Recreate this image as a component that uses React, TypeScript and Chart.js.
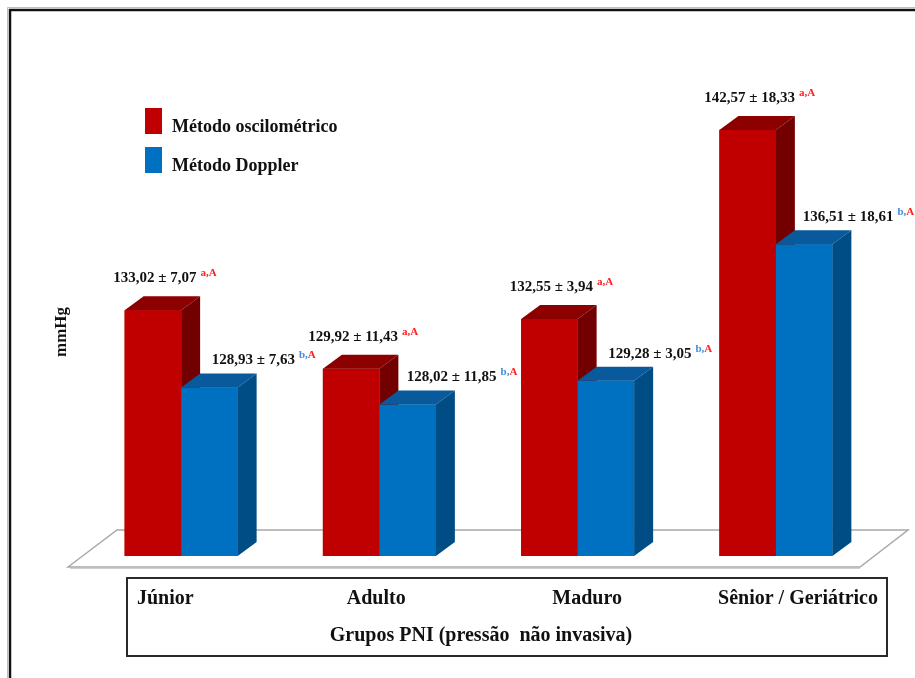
import React, { useEffect, useRef } from "react";
import { Chart, registerables } from "chart.js";

Chart.register(...registerables);

const categories = ["Júnior", "Adulto", "Maduro", "Sênior / Geriátrico"];
const seriesNames = ["Método oscilométrico", "Método Doppler"];
const oscilMeans = [133.02, 129.92, 132.55, 142.57];
const oscilSD = [7.07, 11.43, 3.94, 18.33];
const dopplerMeans = [128.93, 128.02, 129.28, 136.51];
const dopplerSD = [7.63, 11.85, 3.05, 18.61];
const oscilLetters = ["a", "a", "a", "a"];
const dopplerLetters = ["b", "b", "b", "b"];
const groupLetters = ["A", "A", "A", "A"];
const yAxisTitle = "mmHg";
const xAxisTitle = "Grupos PNI (pressão  não invasiva)";

const SERIF = '"Liberation Serif", "Times New Roman", serif';
const FRONT = ["#C00000", "#0070C0"];
const TOP = ["#8C0000", "#085A9C"];
const SIDE = ["#730000", "#004C84"];
const SUPCOL = ["#FF2020", "#3D8BDB"];
const DX = 19;
const DY = -14;

const fmt = (v: number) => v.toFixed(2).replace(".", ",");

function txt(
  ctx: CanvasRenderingContext2D,
  s: string,
  x: number,
  y: number,
  font: string,
  color: string,
  align: CanvasTextAlign = "left",
  sx = 1
) {
  ctx.save();
  ctx.font = font;
  ctx.fillStyle = color;
  ctx.textBaseline = "middle";
  ctx.textAlign = align;
  ctx.translate(x, y);
  ctx.scale(sx, 1);
  ctx.fillText(s, 0, 0);
  ctx.restore();
}

function measure(ctx: CanvasRenderingContext2D, s: string, font: string, sx = 1) {
  ctx.save();
  ctx.font = font;
  const w = ctx.measureText(s).width * sx;
  ctx.restore();
  return w;
}

const decoPlugin = {
  id: "deco3d",
  beforeDatasetsDraw(chart: any) {
    const { ctx, chartArea } = chart;
    const { left, right, bottom } = chartArea;
    ctx.save();
    ctx.beginPath();
    ctx.moveTo(left - 14, bottom + 11);
    ctx.lineTo(left + 35, bottom - 26);
    ctx.lineTo(right + 33, bottom - 26);
    ctx.lineTo(right - 15, bottom + 11);
    ctx.closePath();
    ctx.fillStyle = "#ffffff";
    ctx.fill();
    ctx.strokeStyle = "#a8a8a8";
    ctx.lineWidth = 1.5;
    ctx.stroke();
    ctx.beginPath();
    ctx.moveTo(left - 12, bottom + 12.5);
    ctx.lineTo(right - 15, bottom + 12.5);
    ctx.strokeStyle = "#d0d0d0";
    ctx.lineWidth = 1;
    ctx.stroke();
    ctx.restore();
  },
  afterDatasetsDraw(chart: any) {
    const { ctx, chartArea } = chart;
    ctx.save();
    chart.data.datasets.forEach((_ds: any, di: number) => {
      const meta = chart.getDatasetMeta(di);
      meta.data.forEach((bar: any) => {
        const p = bar.getProps(["x", "y", "base", "width"], true);
        const { x, y, width } = p;
        const base = Math.min(p.base, chartArea.bottom);
        const l = x - width / 2;
        const r = x + width / 2;
        ctx.fillStyle = FRONT[di];
        ctx.fillRect(l, y, r - l, base - y);
        ctx.beginPath();
        ctx.moveTo(l, y);
        ctx.lineTo(l + DX, y + DY);
        ctx.lineTo(r + DX, y + DY);
        ctx.lineTo(r, y);
        ctx.closePath();
        ctx.fillStyle = TOP[di];
        ctx.fill();
        ctx.beginPath();
        ctx.moveTo(r, y);
        ctx.lineTo(r + DX, y + DY);
        ctx.lineTo(r + DX, base + DY);
        ctx.lineTo(r, base);
        ctx.closePath();
        ctx.fillStyle = SIDE[di];
        ctx.fill();
      });
    });
    ctx.restore();
  },
  afterDraw(chart: any) {
    const { ctx, chartArea } = chart;
    const { left, right, bottom } = chartArea;
    const labelFont = `bold 15px ${SERIF}`;
    const supFont = `bold 11px ${SERIF}`;
    const means = [oscilMeans, dopplerMeans];
    const sds = [oscilSD, dopplerSD];
    const letters = [oscilLetters, dopplerLetters];
    // value labels
    means.forEach((_m, di) => {
      const meta = chart.getDatasetMeta(di);
      meta.data.forEach((bar: any, i: number) => {
        const { x, y } = bar.getProps(["x", "y"], true);
        const main = `${fmt(means[di][i])} ± ${fmt(sds[di][i])}`;
        const cx = di === 0 ? x + 2 : x + 44;
        const cy = di === 0 ? y - 32 : y - 27;
        const w = measure(ctx, main, labelFont);
        const start = cx - w / 2;
        txt(ctx, main, start, cy, labelFont, "#111111", "left");
        let sxp = start + w + 4;
        const p1 = letters[di][i] + ",";
        txt(ctx, p1, sxp, cy - 5, supFont, SUPCOL[di], "left");
        sxp += measure(ctx, p1, supFont);
        txt(ctx, groupLetters[i], sxp, cy - 5, supFont, "#FF2020", "left");
      });
    });

    // legend
    const legFont = `bold 18px ${SERIF}`;
    seriesNames.forEach((name, di) => {
      const ty = 121 + di * 39;
      ctx.fillStyle = FRONT[di];
      ctx.fillRect(145, ty - 13, 17, 26);
      txt(ctx, name, 172, ty + 6, legFont, "#111111", "left");
    });

    // y axis title
    ctx.save();
    ctx.translate(62, 332);
    ctx.rotate(-Math.PI / 2);
    txt(ctx, yAxisTitle, 0, 0, `bold 17px ${SERIF}`, "#111111", "center");
    ctx.restore();

    // category box
    const bx = left + 45;
    const bx2 = right + 12;
    const by = bottom + 22;
    const by2 = bottom + 100;
    ctx.save();
    ctx.fillStyle = "#ffffff";
    ctx.fillRect(bx, by, bx2 - bx, by2 - by);
    ctx.strokeStyle = "#2a2a2a";
    ctx.lineWidth = 2;
    ctx.strokeRect(bx, by, bx2 - bx, by2 - by);
    ctx.restore();
    const catFont = `bold 20px ${SERIF}`;
    const n = categories.length;
    const wFirst = measure(ctx, categories[0], catFont);
    const wLast = measure(ctx, categories[n - 1], catFont);
    const c0 = bx + 10 + wFirst / 2;
    const c1 = bx2 - 9 - wLast / 2;
    categories.forEach((c, i) => {
      const cx = c0 + ((c1 - c0) * i) / (n - 1);
      txt(ctx, c, cx, by + 21, catFont, "#111111", "center");
    });
    txt(ctx, xAxisTitle, (bx + bx2) / 2 - 26, by + 58, `bold 20px ${SERIF}`, "#111111", "center");

    // outer frame
    ctx.save();
    ctx.strokeStyle = "#bdbdbd";
    ctx.lineWidth = 1;
    ctx.beginPath();
    ctx.moveTo(7.5, 678);
    ctx.lineTo(7.5, 7.5);
    ctx.lineTo(915, 7.5);
    ctx.stroke();
    ctx.strokeStyle = "#111111";
    ctx.lineWidth = 2.5;
    ctx.beginPath();
    ctx.moveTo(10, 678);
    ctx.lineTo(10, 10);
    ctx.lineTo(915, 10);
    ctx.stroke();
    ctx.restore();
  },
};

export default function App() {
  const ref = useRef<HTMLCanvasElement | null>(null);
  useEffect(() => {
    if (!ref.current) return;
    const chart = new Chart(ref.current, {
      type: "bar",
      data: {
        labels: categories,
        datasets: [
          { label: seriesNames[0], data: oscilMeans, backgroundColor: FRONT[0], borderWidth: 0 },
          { label: seriesNames[1], data: dopplerMeans, backgroundColor: FRONT[1], borderWidth: 0 },
        ],
      },
      options: {
        responsive: false,
        animation: false,
        layout: { padding: { left: 82, right: 40, top: 84, bottom: 122 } },
        datasets: { bar: { categoryPercentage: 0.57, barPercentage: 1.0 } },
        scales: {
          x: { display: false },
          y: { display: false, min: 120, max: 145 },
        },
        plugins: { legend: { display: false }, tooltip: { enabled: false } },
      },
      plugins: [decoPlugin],
    });
    return () => chart.destroy();
  }, []);
  return (
    <div style={{ position: "fixed", left: 0, top: 0, width: 915, height: 678, background: "#fff" }}>
      <canvas ref={ref} width={915} height={678} style={{ display: "block" }} />
    </div>
  );
}
